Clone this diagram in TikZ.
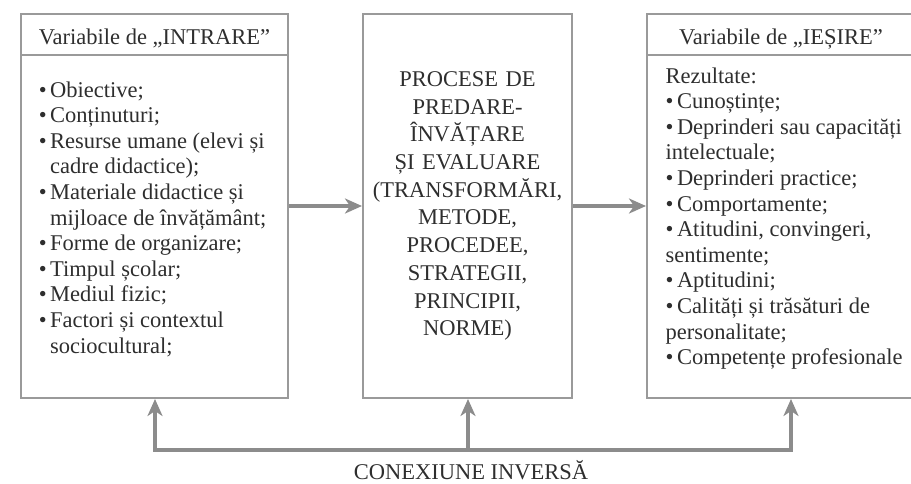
\documentclass[tikz,border=0pt]{standalone}
\usepackage{fontspec}
\setmainfont{Liberation Serif}
\usetikzlibrary{arrows.meta}
\definecolor{txt}{HTML}{2E2E2E}
\definecolor{brd}{HTML}{9A9A9A}
\definecolor{arw}{HTML}{8C8C8C}
\newcommand\bul{\makebox[11.3pt][l]{•}}
\newcommand\ind{\hspace*{11.3pt}}
\begin{document}
\begin{tikzpicture}[x=1pt,y=-1pt,
  box/.style={draw=brd, line width=2pt, inner sep=0pt, anchor=north west, text=txt,
    font=\fontsize{22.5}{25.6}\selectfont},
  hdr/.style={box, text height=22pt, text depth=3pt},
  arr/.style={draw=arw, line width=3.5pt, -{Stealth[length=17pt,width=15pt,inset=5pt]}},
  fb/.style={draw=arw, line width=3.5pt, line cap=rect},
  txtf/.style={font=\fontsize{22.5}{25.6}\selectfont, text=txt, inner sep=0pt}]
\useasboundingbox (0,0) rectangle (911,483);
% boxes
\node[hdr, minimum width=267pt, minimum height=41pt] (inh) at (20,13) {Variabile de „INTRARE”};
\node[box, minimum width=267pt, minimum height=343pt] (inbody) at (20,54) {};
\node[box, minimum width=209pt, minimum height=384pt, text width=205pt, align=center,
  font=\fontsize{22.5}{27.7}\selectfont] (mid) at (362,13)
  {PROCESE DE\\ PREDARE-\\ ÎNVĂȚARE\\ ȘI EVALUARE\\ (TRANSFORMĂRI,\\ METODE,\\ PROCEDEE,\\ STRATEGII,\\ PRINCIPII,\\ NORME)};
\node[hdr, minimum width=268pt, minimum height=41pt] (outh) at (646,13) {Variabile de „IEȘIRE”};
\node[box, minimum width=268pt, minimum height=343pt] (outbody) at (646,54) {};
% lists
\node[txtf, anchor=base west] (inl) at (38.7,97) {\parbox[t]{245pt}{\raggedright
  \bul Obiective;\\
  \bul Conținuturi;\\
  \bul Resurse umane (elevi și\\
  \ind cadre didactice);\\
  \bul Materiale didactice și\\
  \ind mijloace de învățământ;\\
  \bul Forme de organizare;\\
  \bul Timpul școlar;\\
  \bul Mediul fizic;\\
  \bul Factori și contextul\\
  \ind sociocultural;}};
\node[txtf, anchor=base west] (outl) at (665.5,83) {\parbox[t]{300pt}{\raggedright
  Rezultate:\\
  \bul Cunoștințe;\\
  \bul Deprinderi sau capacități\\
  intelectuale;\\
  \bul Deprinderi practice;\\
  \bul Comportamente;\\
  \bul Atitudini, convingeri,\\
  sentimente;\\
  \bul Aptitudini;\\
  \bul Calități și trăsături de\\
  personalitate;\\
  \bul Competențe profesionale}};
% forward arrows
\draw[arr] (mid.west -| inbody.east) -- (mid.west);
\draw[arr] (mid.east) -- (mid.east -| outbody.west);
% feedback
\coordinate (fl) at (155,450);
\coordinate (fm) at (468,450);
\coordinate (fr) at (791,450);
\draw[fb] (fl) -- (fr);
\draw[arr] (fl) -- (fl |- inbody.south);
\draw[arr] (fm) -- (fm |- mid.south);
\draw[arr] (fr) -- (fr |- outbody.south);
\node[txtf, anchor=base] (lbl) at (471,479.5) {CONEXIUNE INVERSĂ};
\end{tikzpicture}
\end{document}
